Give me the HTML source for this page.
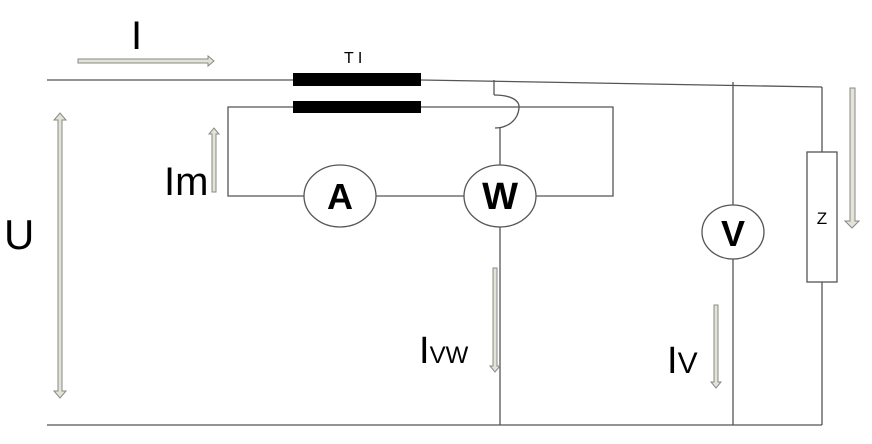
<!DOCTYPE html>
<html><head><meta charset="utf-8"><style>
html,body{margin:0;padding:0;background:#fff;}
svg{display:block;font-family:"Liberation Sans",sans-serif;}
</style></head><body>
<svg width="872" height="444" viewBox="0 0 872 444">
<g stroke="#555" stroke-width="1.3" fill="none">
<line x1="47" y1="80" x2="293" y2="80"/>
<line x1="421" y1="80" x2="822" y2="87"/>
<line x1="822" y1="87" x2="822" y2="152"/>
<line x1="822" y1="282" x2="822" y2="425"/>
<line x1="733" y1="82" x2="733" y2="205"/>
<line x1="733" y1="259" x2="733" y2="425"/>
<line x1="47" y1="425" x2="822" y2="425"/>
<polyline points="293,107 228,107 228,196 304,196"/>
<line x1="376" y1="196" x2="464" y2="196"/>
<polyline points="536,196 613,196 613,107 421,107"/>
<line x1="494" y1="80" x2="494" y2="95"/>
<path d="M494,95 C512,95 520,101 519,108 C518,120 508,128 495,128"/>
<line x1="500" y1="128" x2="500" y2="165"/>
<line x1="500" y1="227" x2="500" y2="425"/>
</g>
<rect x="293" y="73" width="128" height="13" fill="#000"/>
<rect x="293" y="101" width="128" height="12" fill="#000"/>
<text x="344" y="63" font-size="16">T I</text>
<ellipse cx="340" cy="196" rx="36" ry="31" fill="#fff" stroke="#555" stroke-width="1.3"/>
<text x="340" y="209" font-size="36" font-weight="bold" text-anchor="middle">A</text>
<ellipse cx="500" cy="196" rx="36" ry="31" fill="#fff" stroke="#555" stroke-width="1.3"/>
<text x="500" y="209" font-size="38" font-weight="bold" text-anchor="middle">W</text>
<ellipse cx="733" cy="232" rx="31" ry="27" fill="#fff" stroke="#555" stroke-width="1.3"/>
<text x="733" y="246" font-size="36" font-weight="bold" text-anchor="middle">V</text>
<rect x="807" y="152" width="30" height="130" fill="#fff" stroke="#555" stroke-width="1.3"/>
<text x="822" y="224" font-size="17" text-anchor="middle">Z</text>
<g fill="#e4e4d6" stroke="#888" stroke-width="1">
<polygon points="78,59 208,59 208,56 214,61 208,66 208,63 78,63"/>
<polygon points="58,120 54,120 60,113 66,120 62,120 62,391 66,391 60,398 54,391 58,391"/>
<polygon points="212,192 212,134 209,134 214,128 219,134 216,134 216,192"/>
<polygon points="493,268 497,268 497,366 500,366 495,372 490,366 493,366"/>
<polygon points="714,305 718,305 718,382 721,382 716,388 711,382 714,382"/>
<polygon points="850,88 855,88 855,221 859,221 852,228 845,221 850,221"/>
</g>
<text x="131" y="49" font-size="40">I</text>
<text x="164" y="195" font-size="40">Im</text>
<text x="4" y="249" font-size="42">U</text>
<text x="419" y="363" font-size="38">I<tspan font-size="24">VW</tspan></text>
<text x="667" y="373" font-size="38">I<tspan font-size="30">V</tspan></text>
</svg>
</body></html>
